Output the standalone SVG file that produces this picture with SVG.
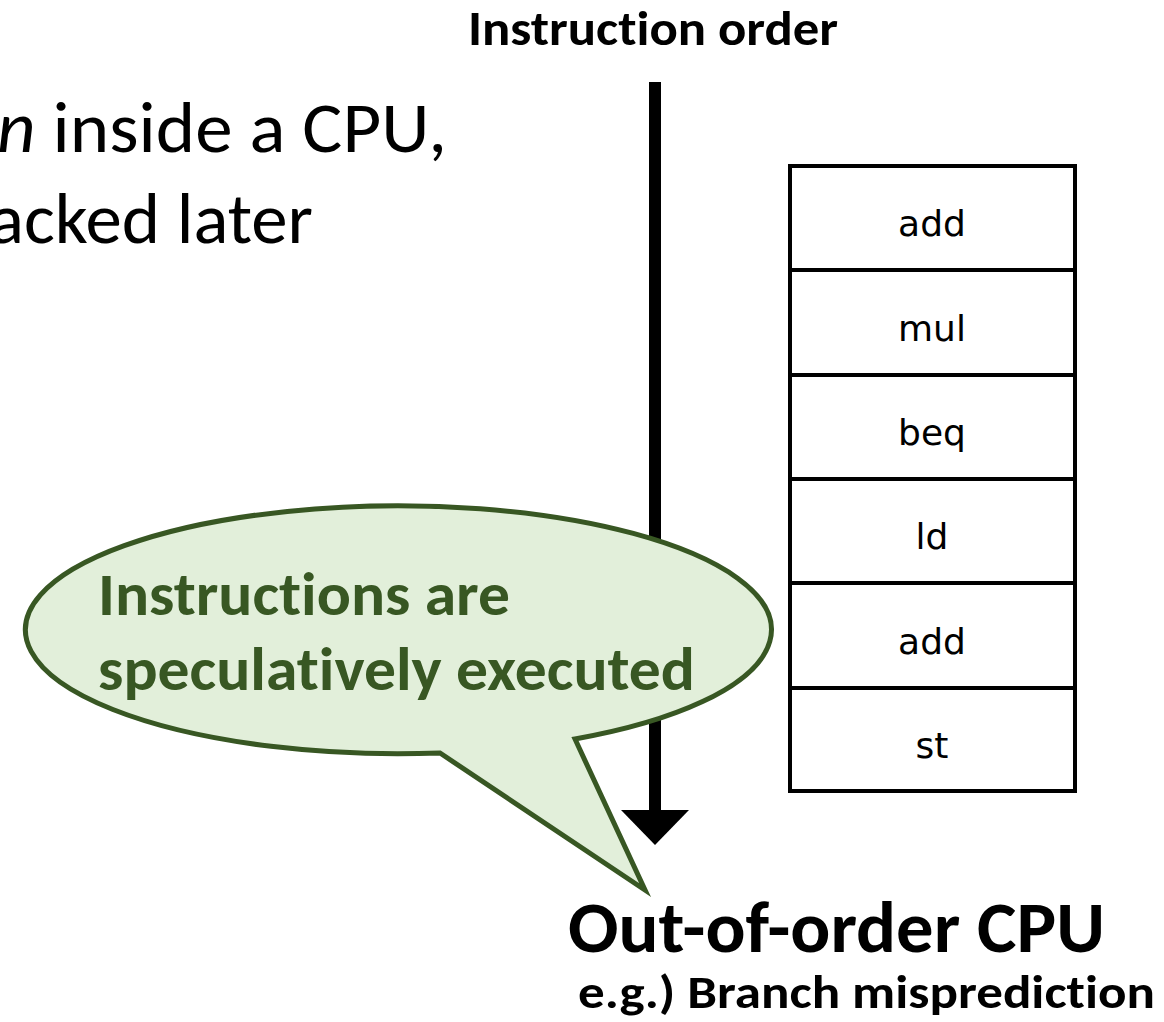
<svg xmlns="http://www.w3.org/2000/svg" width="1164" height="1022" viewBox="0 0 1164 1022">
  <style>
    .sans { font-family: Carlito, Lato, "Noto Sans", sans-serif; font-variant-ligatures: none; font-feature-settings: "liga" 0, "clig" 0; }
    .bold { font-weight: bold; }
    .slot { fill: #ffffff; stroke: #000000; stroke-width: 4; }
    .op { font-family: "DejaVu Sans", Verdana, sans-serif; font-size: 36px; fill: #000000; text-anchor: middle; }
    .bubble { fill: #E2EFDA; stroke: #385723; stroke-width: 5; stroke-linejoin: miter; stroke-miterlimit: 10; }
    .bubble-text { fill: #385723; font-size: 60px; font-weight: bold; }
  </style>

  <rect x="0" y="0" width="1164" height="1022" fill="#ffffff"/>

  <!-- heading text on the left (continues past the left edge) -->
  <g id="intro-text" class="sans" font-size="72" fill="#000000">
    <text x="-3" y="152" textLength="450" lengthAdjust="spacingAndGlyphs"><tspan font-style="italic">n</tspan> inside a CPU,</text>
    <text x="-11" y="243" textLength="324" lengthAdjust="spacingAndGlyphs">acked later</text>
  </g>

  <!-- axis label -->
  <g id="order-label">
    <text class="sans bold" x="468" y="45" font-size="48" textLength="370" lengthAdjust="spacingAndGlyphs">Instruction order</text>
  </g>

  <!-- instruction-order axis arrow -->
  <g id="connectors">
    <rect x="649" y="82" width="12" height="730" fill="#000000"/>
    <polygon points="621,810 689,810 655,845" fill="#000000"/>
  </g>

  <!-- instruction stream -->
  <g id="instr-1"><rect class="slot" x="790" y="166" width="285" height="104"/><text class="op" x="932" y="236">add</text></g>
  <g id="instr-2"><rect class="slot" x="790" y="270" width="285" height="105"/><text class="op" x="932" y="341">mul</text></g>
  <g id="instr-3"><rect class="slot" x="790" y="375" width="285" height="104"/><text class="op" x="932" y="445">beq</text></g>
  <g id="instr-4"><rect class="slot" x="790" y="479" width="285" height="104"/><text class="op" x="932" y="549">ld</text></g>
  <g id="instr-5"><rect class="slot" x="790" y="583" width="285" height="105"/><text class="op" x="932" y="654">add</text></g>
  <g id="instr-6"><rect class="slot" x="790" y="688" width="285" height="103"/><text class="op" x="932" y="758">st</text></g>

  <!-- speech bubble -->
  <g id="speculation-callout">
    <path class="bubble" d="M 440 753 A 373 124 0 1 1 575 739 L 645 890 Z"/>
    <text class="sans bubble-text" x="98" y="615" textLength="412" lengthAdjust="spacingAndGlyphs">Instructions are</text>
    <text class="sans bubble-text" x="98" y="690" textLength="597" lengthAdjust="spacingAndGlyphs">speculatively executed</text>
  </g>

  <!-- captions -->
  <g id="cpu-caption" class="sans bold" fill="#000000">
    <text x="568" y="952" font-size="72" textLength="537" lengthAdjust="spacingAndGlyphs">Out-of-order CPU</text>
    <text x="578" y="1008" font-size="46" textLength="577" lengthAdjust="spacingAndGlyphs">e.g.) Branch misprediction</text>
  </g>
</svg>
